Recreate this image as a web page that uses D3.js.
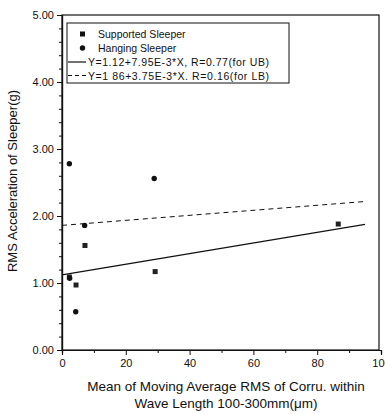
<!DOCTYPE html>
<html>
<head>
<meta charset="utf-8">
<script src="https://cdn.jsdelivr.net/npm/d3@7"></script>
<style>
	body { margin:0 ; background:#fff ; }
	svg text { font-family: "Liberation Sans", Arial, sans-serif ; fill:#111 ; }
</style>
</head>
<body>
<svg id="chart" width="385" height="414"></svg>
<script>

// data
const supportedX = [ 2.3, 4.4, 7.2, 29.2, 86.6 ] ;
const supportedY = [ 1.09, 0.97, 1.56, 1.17, 1.88 ] ;
const hangingX = [ 2.3, 2.4, 4.3, 7.1, 28.9 ] ;
const hangingY = [ 2.78, 1.07, 0.57, 1.86, 2.56 ] ;
const fitUB = [ 1.12, 7.95E-3 ] ;
const fitLB = [ 1.86, 3.75E-3 ] ;
const fitRange = [ 0, 95 ] ;
const xTicks = [ 0, 20, 40, 60, 80, 100 ] ;
const yTicks = [ 0, 1, 2, 3, 4, 5 ] ;
const legendLabels = [ "Supported Sleeper", "Hanging Sleeper",
	"Y=1.12+7.95E-3*X, R=0.77(for UB)", "Y=1 86+3.75E-3*X. R=0.16(for LB)" ] ;

const svg = d3.select( "#chart" ) ;
const padL = 62, padR = 379, padT = 15, padB = 350 ;

const x = d3.scaleLinear().domain( [0, 100] ).range( [padL, 381] ) ;
const y = d3.scaleLinear().domain( [0, 5] ).range( [padB, padT] ) ;

// frame
svg.append( "rect" )
	.attr( "x", padL ).attr( "y", padT )
	.attr( "width", padR-padL ).attr( "height", padB-padT )
	.attr( "fill", "none" ).attr( "stroke", "#111" ).attr( "stroke-width", 1.2 ) ;

// axes
svg.append( "g" )
	.attr( "transform", "translate(" + padL + ",0)" )
	.call( d3.axisLeft( y ).tickValues( yTicks ).tickFormat( d3.format( ".2f" ) ).tickSize( 5 ).tickPadding( 3 ) ) ;
svg.append( "g" )
	.attr( "transform", "translate(" + padL + ",0)" )
	.call( d3.axisLeft( y ).tickValues( d3.range( 0, 5.01, 0.2 ).filter( v => Math.abs( v - Math.round(v) ) > 0.01 ) ).tickFormat( "" ).tickSize( 3 ) ) ;

svg.append( "g" )
	.attr( "transform", "translate(0," + padB + ")" )
	.call( d3.axisBottom( x ).tickValues( xTicks ).tickFormat( d3.format( "d" ) ).tickSize( 5 ).tickPadding( 4 ) ) ;
svg.append( "g" )
	.attr( "transform", "translate(0," + padB + ")" )
	.call( d3.axisBottom( x ).tickValues( [ 10, 30, 50, 70, 90 ] ).tickFormat( "" ).tickSize( 3 ) ) ;

svg.selectAll( ".domain" ).attr( "stroke", "#111" ).attr( "stroke-width", 1.2 ) ;
svg.selectAll( ".tick line" ).attr( "stroke", "#111" ) ;
svg.selectAll( ".tick text" ).style( "font-size", "11px" ).attr( "fill", "#111" ) ;

// axis titles
svg.append( "text" )
	.attr( "transform", "translate(17,181) rotate(-90)" )
	.attr( "text-anchor", "middle" )
	.style( "font-size", "13px" )
	.text( "RMS Acceleration of Sleeper(g)" ) ;

svg.append( "text" )
	.attr( "x", 226 ).attr( "y", 391 )
	.attr( "text-anchor", "middle" )
	.style( "font-size", "13.5px" )
	.text( "Mean of Moving Average RMS of Corru. within" ) ;
svg.append( "text" )
	.attr( "x", 226 ).attr( "y", 408 )
	.attr( "text-anchor", "middle" )
	.style( "font-size", "13.5px" )
	.text( "Wave Length 100-300mm(\u03bcm)" ) ;

// fit lines
const line = d3.line().x( d => x(d[0]) ).y( d => y(d[1]) ) ;
function fitPoints( f ) {
	return fitRange.map( v => [ v, f[0] + f[1]*v ] ) ;
}
svg.append( "path" )
	.attr( "d", line( fitPoints( fitUB ) ) )
	.attr( "fill", "none" ).attr( "stroke", "#111" ).attr( "stroke-width", 1.2 ) ;
svg.append( "path" )
	.attr( "d", line( fitPoints( fitLB ) ) )
	.attr( "fill", "none" ).attr( "stroke", "#111" ).attr( "stroke-width", 1 )
	.attr( "stroke-dasharray", "5,4" ) ;

// markers
svg.selectAll( "rect.sup" )
	.data( d3.zip( supportedX, supportedY ) )
	.enter().append( "rect" )
		.attr( "class", "sup" )
		.attr( "x", d => x(d[0]) - 2.5 ).attr( "y", d => y(d[1]) - 2.5 )
		.attr( "width", 5 ).attr( "height", 5 )
		.attr( "fill", "#222" ) ;

svg.selectAll( "circle.hang" )
	.data( d3.zip( hangingX, hangingY ) )
	.enter().append( "circle" )
		.attr( "class", "hang" )
		.attr( "cx", d => x(d[0]) ).attr( "cy", d => y(d[1]) )
		.attr( "r", 2.7 )
		.attr( "fill", "#111" ) ;

// legend
const lg = svg.append( "g" ) ;
lg.append( "rect" )
	.attr( "x", 67 ).attr( "y", 23 ).attr( "width", 222 ).attr( "height", 60 )
	.attr( "fill", "#fff" ).attr( "stroke", "#111" ).attr( "stroke-width", 1 ) ;
const rowY = [ 34, 48, 62, 75.5 ] ;
lg.append( "rect" ).attr( "x", 80 ).attr( "y", rowY[0]-2.5 ).attr( "width", 5 ).attr( "height", 5 ).attr( "fill", "#111" ) ;
lg.append( "circle" ).attr( "cx", 82.5 ).attr( "cy", rowY[1] ).attr( "r", 2.7 ).attr( "fill", "#111" ) ;
lg.append( "line" ).attr( "x1", 68 ).attr( "x2", 86 ).attr( "y1", rowY[2] ).attr( "y2", rowY[2] )
	.attr( "stroke", "#111" ).attr( "stroke-width", 1.2 ) ;
lg.append( "line" ).attr( "x1", 68 ).attr( "x2", 86 ).attr( "y1", rowY[3] ).attr( "y2", rowY[3] )
	.attr( "stroke", "#111" ).attr( "stroke-width", 1 ).attr( "stroke-dasharray", "4,3" ) ;
lg.selectAll( "text" )
	.data( legendLabels )
	.enter().append( "text" )
		.attr( "x", (d, i) => i < 2 ? 98 : 88 )
		.attr( "y", (d, i) => rowY[i] + 4 )
		.style( "font-size", "10.5px" )
		.attr( "textLength", (d, i) => i < 2 ? null : 181 )
		.text( d => d ) ;

</script>
</body>
</html>
